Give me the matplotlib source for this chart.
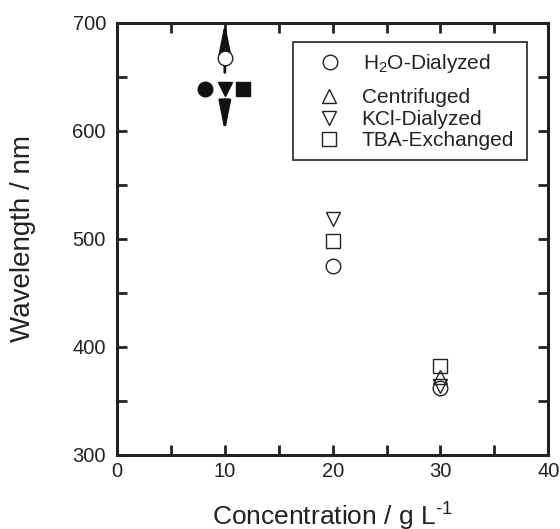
import matplotlib
matplotlib.use("Agg")
import matplotlib.pyplot as plt
from matplotlib.patches import Rectangle
from matplotlib.ticker import MultipleLocator

plt.rcParams['font.family'] = ['Liberation Sans', 'DejaVu Sans']
plt.rcParams['mathtext.fontset'] = 'custom'
plt.rcParams['mathtext.rm'] = 'Liberation Sans'
plt.rcParams['mathtext.it'] = 'Liberation Sans'
plt.rcParams['mathtext.default'] = 'regular'

# open symbols: measured wavelengths
h2o_x = [10, 20, 30]
h2o_y = [667, 475, 362]
cent_x = [30]
cent_y = [372]
kcl_x = [20, 30]
kcl_y = [518, 364]
tba_x = [20, 30]
tba_y = [498, 382]

# filled symbols near 10 g/L
filled_circle_x, filled_circle_y = [8.2], [639]
filled_tri_x, filled_tri_y = [10], [639]
filled_sq_x, filled_sq_y = [11.7], [639]

# arrows (start, end) in data units
arrow_up = ((10, 654), (10, 700))
arrow_down = ((10, 629), (10, 599))

fig = plt.figure(figsize=(5.6, 5.29), dpi=100)
ax = fig.add_axes([0.209, 0.140, 0.770, 0.817])

ink = '#222222'
ms = 10.5
h1, = ax.plot(h2o_x, h2o_y, 'o', mfc='white', mec=ink, mew=1.0, ms=ms, zorder=3)
h2, = ax.plot(cent_x, cent_y, '^', mfc='none', mec=ink, mew=1.0, ms=ms, zorder=3)
h3, = ax.plot(kcl_x, kcl_y, 'v', mfc='none', mec=ink, mew=1.0, ms=ms, zorder=3)
h4, = ax.plot(tba_x, tba_y, 's', mfc='none', mec=ink, mew=1.0, ms=ms - 0.5, zorder=3)

ax.plot(filled_circle_x, filled_circle_y, 'o', color='#111', ms=ms, zorder=3)
ax.plot(filled_tri_x, filled_tri_y, 'v', color='#111', ms=ms, zorder=3)
ax.plot(filled_sq_x, filled_sq_y, 's', color='#111', ms=ms - 1, zorder=3)

for (x0, y0), (x1, y1) in (arrow_up, arrow_down):
    ax.annotate('', xy=(x1, y1), xytext=(x0, y0),
                arrowprops=dict(arrowstyle='-|>,head_length=1.2,head_width=0.24',
                                color='#111', lw=2.0, shrinkA=0, shrinkB=0,
                                mutation_scale=15), zorder=2)

ax.set_xlim(0, 40)
ax.set_ylim(300, 700)
ax.xaxis.set_major_locator(MultipleLocator(10))
ax.xaxis.set_minor_locator(MultipleLocator(5))
ax.yaxis.set_major_locator(MultipleLocator(100))
ax.yaxis.set_minor_locator(MultipleLocator(50))
ax.tick_params(which='both', direction='in', top=True, right=True, width=2,
               length=7.5, color=ink, labelsize=14.5, labelcolor=ink)
ax.tick_params(axis='x', pad=5)
ax.tick_params(axis='y', pad=8)
for s in ax.spines.values():
    s.set_linewidth(2.2)
    s.set_color(ink)

ax.set_xlabel('Concentration / g L$^{\u2010' + '1}$', fontsize=19, color=ink)
ax.xaxis.set_label_coords(0.5, -0.105)
ax.set_ylabel('Wavelength / nm', fontsize=20, color=ink)
ax.yaxis.set_label_coords(-0.188, 0.5)

# legend: frame drawn once, H2O row and the other rows as two frameless legends
ax.add_patch(Rectangle((0.408, 0.683), 0.543, 0.273, transform=ax.transAxes,
                       facecolor='white', edgecolor=ink, lw=1.2, zorder=4))
leg_kw = dict(fontsize=15, frameon=False, handletextpad=0.25, labelspacing=0.12,
              handlelength=2.6, borderaxespad=0)
leg_a = ax.legend([h1], ['H$_2$O-Dialyzed'], loc='upper left',
                  bbox_to_anchor=(0.408, 0.956), borderpad=0.5, **leg_kw)
leg_a.set_zorder(5)
ax.add_artist(leg_a)
leg_b = ax.legend([h2, h3, h4], ['Centrifuged', 'KCl-Dialyzed', 'TBA-Exchanged'],
                  loc='lower left', bbox_to_anchor=(0.408, 0.683), borderpad=0.45,
                  **leg_kw)
leg_b.set_zorder(5)
for leg in (leg_a, leg_b):
    for t in leg.get_texts():
        t.set_color(ink)

fig.savefig('out.png', dpi=100)
